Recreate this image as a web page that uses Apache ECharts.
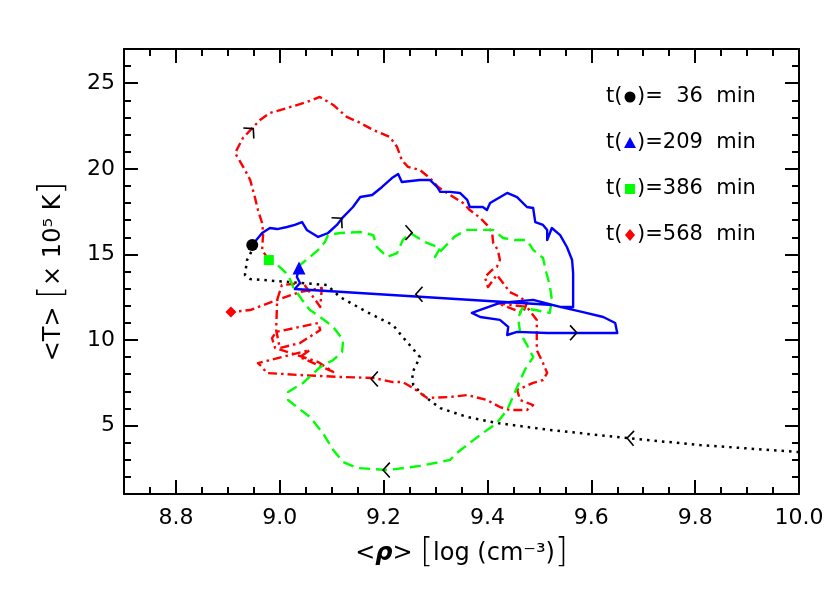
<!DOCTYPE html>
<html><head><meta charset="utf-8">
<script src="https://cdn.jsdelivr.net/npm/echarts@6/dist/echarts.min.js"></script>
<style>html,body{margin:0;padding:0;background:#fff}#c{width:830px;height:593px}</style>
</head><body><div id="c"></div>
<script>
// ---- data (x = <rho> log cm^-3, y = <T> 10^5 K) ----
const xMajorTicks = [8.8, 9.0, 9.2, 9.4, 9.6, 9.8, 10.0];
const yMajorTicks = [5, 10, 15, 20, 25];

const blackPath = [[10.000,3.45],[9.809,3.86],[9.669,4.27],[9.520,4.74],[9.418,5.15],[9.361,5.50],[9.309,6.02],[9.276,6.78],[9.257,7.37],[9.255,8.07],[9.270,9.00],[9.237,10.17],[9.218,10.87],[9.168,11.63],[9.116,12.51],[9.091,13.21],[9.016,13.39],[8.943,13.56],[8.933,13.80],[8.937,14.67],[8.947,15.26],[8.947,15.55]];

const bluePath = [[8.947,15.55],[8.966,16.25],[8.981,16.54],[8.995,16.48],[9.014,16.60],[9.029,16.72],[9.043,16.89],[9.052,16.43],[9.074,16.02],[9.093,16.25],[9.110,16.72],[9.122,17.18],[9.141,17.77],[9.155,18.35],[9.178,18.47],[9.197,18.94],[9.216,19.46],[9.228,19.70],[9.235,19.23],[9.270,19.35],[9.289,19.35],[9.303,18.94],[9.309,18.65],[9.328,18.65],[9.347,18.59],[9.361,18.18],[9.366,17.77],[9.391,17.77],[9.399,17.59],[9.405,18.00],[9.438,18.59],[9.457,18.35],[9.476,17.77],[9.488,17.71],[9.492,16.89],[9.507,16.72],[9.515,16.43],[9.515,15.84],[9.524,16.54],[9.540,16.13],[9.553,15.43],[9.563,14.67],[9.565,13.91],[9.565,12.51],[9.565,11.93],[9.540,11.93],[9.488,12.34],[9.424,12.16],[9.370,11.58],[9.386,11.34],[9.424,11.17],[9.440,10.76],[9.438,10.29],[9.457,10.47],[9.515,10.41],[9.569,10.41],[9.650,10.41],[9.646,10.99],[9.623,11.34],[9.584,11.63],[9.540,11.93],[9.526,12.04],[9.029,12.98],[9.039,13.33],[9.033,13.68],[9.035,13.97],[9.037,14.20]];

const greenPath = [[9.037,14.20],[9.039,14.38],[9.058,14.85],[9.074,15.26],[9.087,15.72],[9.093,16.13],[9.116,16.25],[9.155,16.31],[9.180,16.13],[9.187,15.43],[9.207,14.85],[9.226,15.08],[9.237,15.84],[9.251,16.25],[9.280,15.72],[9.309,15.37],[9.299,14.85],[9.312,15.26],[9.338,16.07],[9.361,16.43],[9.411,16.43],[9.430,15.96],[9.453,15.84],[9.476,15.84],[9.488,15.26],[9.507,14.79],[9.513,13.97],[9.520,13.21],[9.524,12.34],[9.520,11.58],[9.492,11.75],[9.467,11.87],[9.459,11.28],[9.463,10.41],[9.476,9.71],[9.488,9.00],[9.472,8.25],[9.453,6.96],[9.438,5.91],[9.418,5.15],[9.386,4.45],[9.341,3.40],[9.328,2.99],[9.270,2.64],[9.207,2.40],[9.149,2.52],[9.122,2.87],[9.103,3.57],[9.083,4.56],[9.058,5.50],[9.033,6.08],[9.016,6.49],[9.016,6.96],[9.045,7.49],[9.078,8.42],[9.103,8.83],[9.120,9.30],[9.122,10.00],[9.103,10.76],[9.078,11.34],[9.058,11.75],[9.043,12.34],[9.026,13.09],[9.016,13.80],[9.000,14.26],[8.979,14.67]];

const redPath = [[8.979,14.67],[8.966,15.26],[8.968,16.25],[8.966,16.83],[8.958,17.59],[8.952,18.35],[8.943,19.35],[8.933,19.93],[8.914,20.92],[8.929,21.80],[8.947,22.38],[8.962,22.85],[8.981,23.26],[9.014,23.55],[9.052,23.90],[9.077,24.20],[9.103,23.73],[9.129,23.03],[9.151,22.74],[9.180,22.27],[9.212,21.86],[9.226,21.27],[9.235,20.51],[9.247,20.11],[9.270,19.93],[9.289,19.46],[9.305,18.94],[9.322,18.59],[9.353,18.00],[9.366,17.59],[9.386,17.13],[9.399,16.72],[9.409,16.25],[9.411,15.67],[9.420,15.26],[9.424,14.67],[9.418,14.26],[9.409,14.09],[9.395,13.68],[9.401,13.09],[9.411,13.50],[9.418,13.80],[9.430,13.33],[9.443,12.80],[9.463,12.51],[9.476,12.16],[9.468,11.58],[9.438,11.93],[9.418,12.16],[9.476,11.93],[9.495,11.17],[9.495,10.17],[9.495,9.41],[9.507,8.65],[9.515,8.07],[9.507,7.66],[9.488,7.49],[9.457,7.08],[9.463,6.49],[9.488,6.20],[9.476,5.91],[9.443,5.91],[9.424,6.08],[9.399,6.49],[9.361,6.78],[9.328,6.67],[9.284,6.61],[9.257,7.19],[9.237,7.54],[9.218,7.54],[9.180,7.78],[9.116,7.84],[9.039,7.95],[8.975,8.07],[8.966,8.42],[8.958,8.65],[9.058,9.41],[9.039,9.00],[9.103,8.13],[9.074,8.71],[8.991,9.53],[8.985,10.11],[8.993,10.47],[9.074,10.99],[9.078,10.58],[9.039,9.82],[9.000,9.53],[8.993,10.58],[8.995,12.34],[9.004,13.21],[9.045,13.33],[9.078,11.93],[9.081,13.04],[9.039,12.80],[8.995,12.34],[8.943,11.75],[8.906,11.63]];

// start markers: [x, y]
const markBlack = [8.947, 15.55];
const markBlue  = [9.037, 14.20];
const markGreen = [8.979, 14.67];
const markRed   = [8.906, 11.63];

// direction arrows on the tracks: [x, y, direction in degrees]
const arrowMarks = [[9.669,4.27,178],[9.119,17.11,45],[9.262,12.67,180],[9.572,10.42,0],[9.255,16.27,0],[9.199,2.40,180],[8.949,22.35,45],[9.176,7.72,180]];

const legendTimes = ['  36', '209', '386', '568'];

// ---- chart ----
const FONT = 'DejaVu Sans';
const chart = echarts.init(document.getElementById('c'), null, {renderer: 'canvas'});

function xAx(pos, major, labels) {
  const a = {type: 'value', min: 8.7, max: 10.0, position: pos, splitLine: {show: false},
    axisLine: {show: major, onZero: false, lineStyle: {color: '#000', width: 2}},
    axisTick: {show: true, inside: true, length: major ? 14 : 7, lineStyle: {color: '#000', width: 2}},
    axisLabel: {show: false}};
  if (major) { a.axisTick.customValues = xMajorTicks; } else { a.interval = 0.05; }
  if (labels) {
    a.axisLabel = {show: true, customValues: xMajorTicks, formatter: v => v.toFixed(1), fontFamily: FONT, fontSize: 22, color: '#000', margin: 13};
    a.name = '<{i|ρ}> {b|[}log (cm⁻³){b|]}';
    a.nameLocation = 'middle'; a.nameGap = 43;
    a.nameTextStyle = {fontFamily: FONT, fontSize: 24, color: '#000', rich: {i: {fontFamily: FONT, fontSize: 24, fontStyle: 'italic', fontWeight: 'bold'}, b: {fontFamily: FONT, fontSize: 33, fontWeight: 'lighter'}}};
  }
  return a;
}
function yAx(pos, major, labels) {
  const a = {type: 'value', min: 1, max: 27, position: pos, splitLine: {show: false},
    axisLine: {show: major, onZero: false, lineStyle: {color: '#000', width: 2}},
    axisTick: {show: true, inside: true, length: major ? 14 : 7, lineStyle: {color: '#000', width: 2}},
    axisLabel: {show: false}};
  if (major) { a.axisTick.customValues = yMajorTicks; } else { a.interval = 1; }
  if (labels) {
    a.axisLabel = {show: true, customValues: yMajorTicks, fontFamily: FONT, fontSize: 22, color: '#000', margin: 9};
    a.name = '<T> {b|[}× 10⁵ K{b|]}';
    a.nameLocation = 'middle'; a.nameGap = 54;
    a.nameTextStyle = {fontFamily: FONT, fontSize: 24, color: '#000', rich: {b: {fontFamily: FONT, fontSize: 33, fontWeight: 'lighter'}}};
  }
  return a;
}

const legendMarks = [
  {type: 'circle', shape: {cx: 0, cy: 0, r: 5.5}, style: {fill: '#000'}},
  {type: 'polygon', shape: {points: [[0,-6],[6,5],[-6,5]]}, style: {fill: '#0000ff'}},
  {type: 'rect', shape: {x: -5, y: -5, width: 10, height: 10}, style: {fill: '#00ff00'}},
  {type: 'polygon', shape: {points: [[0,-6],[5,0],[0,6],[-5,0]]}, style: {fill: '#ff0000'}}
];
const legendRowsY = [97, 143, 189, 235];
const graphics = [];
legendTimes.forEach((t, i) => {
  graphics.push({type: 'group', x: 606, y: legendRowsY[i], children: [
    {type: 'text', x: 0, y: 0, style: {text: 't(', fontFamily: FONT, fontSize: 21, fill: '#000', textVerticalAlign: 'middle'}},
    Object.assign({x: 24, y: 0}, legendMarks[i]),
    {type: 'text', x: 31, y: 0, style: {text: ')=' + t + '  min', fontFamily: FONT, fontSize: 21, fill: '#000', textVerticalAlign: 'middle'}}
  ]});
});

function lineSeries(data, color, type, width) {
  return {type: 'line', data: data, xAxisIndex: 0, yAxisIndex: 0, showSymbol: false, symbol: 'none', smooth: false,
    lineStyle: {color: color, width: width, type: type, cap: type === 'solid' ? 'round' : 'butt', join: 'round'}, z: 3, silent: true};
}
function markSeries(pt, symbol, size, color) {
  return {type: 'scatter', data: [pt], xAxisIndex: 0, yAxisIndex: 0, symbol: symbol, symbolSize: size, itemStyle: {color: color, opacity: 1}, z: 6, silent: true};
}

chart.setOption({
  animation: false,
  backgroundColor: '#fff',
  grid: {left: 124, right: 31, top: 49, bottom: 99, containLabel: false},
  xAxis: [xAx('bottom', true, true), xAx('bottom', false, false), xAx('top', true, false), xAx('top', false, false)],
  yAxis: [yAx('left', true, true), yAx('left', false, false), yAx('right', true, false), yAx('right', false, false)],
  graphic: graphics,
  series: [
    lineSeries(blackPath, '#000000', [2.5, 5], 2.5),
    lineSeries(redPath, '#ff0000', [9, 4, 2.5, 4], 2.4),
    lineSeries(greenPath, '#00ff00', [11, 6], 2.4),
    lineSeries(bluePath, '#0000ff', 'solid', 2.4),
    markSeries(markBlack, 'circle', 12, '#000'),
    markSeries(markBlue, 'triangle', 13, '#0000ff'),
    markSeries(markGreen, 'rect', 10, '#00ff00'),
    markSeries(markRed, 'diamond', 11, '#ff0000'),
    {type: 'custom', xAxisIndex: 0, yAxisIndex: 0, data: arrowMarks, z: 8, silent: true,
     renderItem: function (params, api) {
       const p = api.coord([api.value(0), api.value(1)]);
       const a = api.value(2) * Math.PI / 180, h = 48 * Math.PI / 180, L = 10;
       const b1 = a + Math.PI + h, b2 = a + Math.PI - h;
       return {type: 'polyline', shape: {points: [[p[0] + L * Math.cos(b1), p[1] - L * Math.sin(b1)], p, [p[0] + L * Math.cos(b2), p[1] - L * Math.sin(b2)]]},
               style: {stroke: '#000', lineWidth: 1.6, fill: null}};
     }}
  ]
});
</script></body></html>
